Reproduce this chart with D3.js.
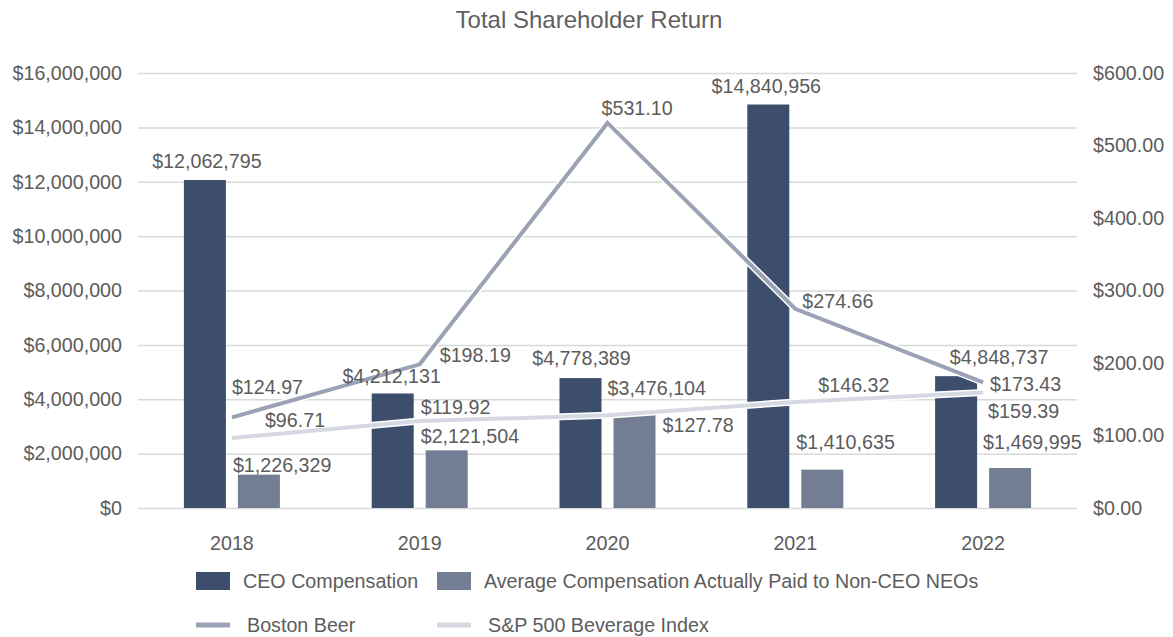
<!DOCTYPE html>
<html>
<head>
<meta charset="utf-8">
<script src="https://cdn.jsdelivr.net/npm/d3@7"></script>
<style>
  body { margin: 0; background: #fff; }
  text { font-family: "Liberation Sans", Arial, Helvetica, sans-serif; }
</style>
</head>
<body>
<div id="chart"></div>
<script>
// Chart data
const years = ["2018", "2019", "2020", "2021", "2022"];
const ceoComp = [12062795, 4212131, 4778389, 14840956, 4848737];
const neoComp = [1226329, 2121504, 3476104, 1410635, 1469995];
const bostonBeer = [124.97, 198.19, 531.10, 274.66, 173.43];
const spBeverage = [96.71, 119.92, 127.78, 146.32, 159.39];
const leftTicks = [0, 2000000, 4000000, 6000000, 8000000, 10000000, 12000000, 14000000, 16000000];
const rightTicks = [0, 100, 200, 300, 400, 500, 600];

// Label nudges [dx, dy] in px (placement only)
const ceoNudge = [[2, -12], [-1, -10], [1, -13], [-2, -12], [43, -12]];
const neoNudge = [[-5, -3], [-5, -7], [-6, -18], [-5, -21], [-6, -19]];
const bbNudge = [[0, -23], [20, -2], [-6, -8], [7, -1], [7, 9]];
const spNudge = [[33, -11], [1, -7], [55, 17], [23, -10], [5, 26]];

const W = 1173, H = 637;
const plot = {left: 138, right: 1077, top: 73, bottom: 508};
const fs = "19.7px";

const colors = {
  ceo: "#3c4e6c",
  neo: "#737e95",
  bb: "#9ca2b5",
  sp: "#d6d9e1",
  text: "#5c5c5c",
  grid: "#d9d9d9"
};

const svg = d3.select("#chart")
  .append("svg")
  .attr("width", W)
  .attr("height", H);

// Scales
const x0 = d3.scaleBand().domain(years).range([plot.left, plot.right]);
const x1 = d3.scaleBand().domain(["ceo", "neo"]).range([-48, 48]).paddingInner(0.2222);
const yL = d3.scaleLinear().domain([0, 16000000]).range([plot.bottom, plot.top]);
const yR = d3.scaleLinear().domain([0, 600]).range([plot.bottom, plot.top]);
const cx = y => x0(y) + x0.bandwidth() / 2;

// Title
svg.append("text")
  .attr("x", 589)
  .attr("y", 28)
  .attr("text-anchor", "middle")
  .style("font-size", "24px")
  .style("fill", "#606060")
  .text("Total Shareholder Return");

// Left axis with gridlines
const gL = svg.append("g")
  .attr("transform", `translate(${plot.left},0)`)
  .call(d3.axisLeft(yL)
    .tickValues(leftTicks)
    .tickSize(-(plot.right - plot.left))
    .tickPadding(16)
    .tickFormat(d => "$" + d3.format(",")(d)));
gL.select(".domain").remove();
gL.selectAll("line").attr("stroke", colors.grid).attr("stroke-width", 1.5);
gL.selectAll("text").style("font-size", fs).style("fill", colors.text).style("font-family", null);

// Right axis
const gR = svg.append("g")
  .attr("transform", `translate(${plot.right},0)`)
  .call(d3.axisRight(yR)
    .tickValues(rightTicks)
    .tickSize(0)
    .tickPadding(16)
    .tickFormat(d => "$" + d3.format(",.2f")(d)));
gR.select(".domain").remove();
gR.selectAll("text").style("font-size", fs).style("fill", colors.text).style("font-family", null);

// Bottom axis
const gX = svg.append("g")
  .attr("transform", `translate(0,${plot.bottom})`)
  .call(d3.axisBottom(x0).tickSize(0).tickPadding(28));
gX.select(".domain").remove();
gX.selectAll("text").style("font-size", fs).style("fill", colors.text).style("font-family", null);

// Bars
const barData = years.map((y, i) => ({year: y, ceo: ceoComp[i], neo: neoComp[i]}));

svg.append("g").selectAll("rect")
  .data(barData)
  .enter()
  .append("rect")
  .attr("x", d => cx(d.year) + x1("ceo"))
  .attr("y", d => yL(d.ceo))
  .attr("width", x1.bandwidth())
  .attr("height", d => yL(0) - yL(d.ceo))
  .attr("fill", colors.ceo);

svg.append("g").selectAll("rect")
  .data(barData)
  .enter()
  .append("rect")
  .attr("x", d => cx(d.year) + x1("neo"))
  .attr("y", d => yL(d.neo))
  .attr("width", x1.bandwidth())
  .attr("height", d => yL(0) - yL(d.neo))
  .attr("fill", colors.neo);

// Lines (with a thin white halo, as in the original)
const line = d3.line()
  .x(d => cx(d.year))
  .y(d => yR(d.v));

const bbData = years.map((y, i) => ({year: y, v: bostonBeer[i]}));
const spData = years.map((y, i) => ({year: y, v: spBeverage[i]}));

[[spData, colors.sp], [bbData, colors.bb]].forEach(([data, c]) => {
  svg.append("path")
    .datum(data)
    .attr("d", line)
    .attr("fill", "none")
    .attr("stroke", "#fff")
    .attr("stroke-width", 7);
  svg.append("path")
    .datum(data)
    .attr("d", line)
    .attr("fill", "none")
    .attr("stroke", c)
    .attr("stroke-width", 4);
});

// Value labels
const money = d3.format(",");
const money2 = d3.format(",.2f");
const labels = svg.append("g")
  .style("font-size", fs)
  .style("fill", colors.text);

barData.forEach((d, i) => {
  labels.append("text")
    .attr("x", cx(d.year) + x1("ceo") + x1.bandwidth() / 2 + ceoNudge[i][0])
    .attr("y", yL(d.ceo) + ceoNudge[i][1])
    .attr("text-anchor", "middle")
    .text("$" + money(d.ceo));
  labels.append("text")
    .attr("x", cx(d.year) + x1("neo") + neoNudge[i][0])
    .attr("y", yL(d.neo) + neoNudge[i][1])
    .text("$" + money(d.neo));
});

bbData.forEach((d, i) => {
  labels.append("text")
    .attr("x", cx(d.year) + bbNudge[i][0])
    .attr("y", yR(d.v) + bbNudge[i][1])
    .text("$" + money2(d.v));
});

spData.forEach((d, i) => {
  labels.append("text")
    .attr("x", cx(d.year) + spNudge[i][0])
    .attr("y", yR(d.v) + spNudge[i][1])
    .text("$" + money2(d.v));
});

// Legend
const legend = svg.append("g").style("font-size", fs).style("fill", colors.text);
const legendItems = [
  {label: "CEO Compensation", type: "rect", color: colors.ceo, x: 196, y: 581},
  {label: "Average Compensation Actually Paid to Non-CEO NEOs", type: "rect", color: colors.neo, x: 437, y: 581},
  {label: "Boston Beer", type: "line", color: colors.bb, x: 196, y: 625},
  {label: "S&P 500 Beverage Index", type: "line", color: colors.sp, x: 437, y: 625}
];

legendItems.forEach(d => {
  if (d.type === "rect") {
    legend.append("rect")
      .attr("x", d.x).attr("y", d.y - 9)
      .attr("width", 34).attr("height", 18)
      .attr("fill", d.color);
  } else {
    legend.append("line")
      .attr("x1", d.x).attr("x2", d.x + 34)
      .attr("y1", d.y).attr("y2", d.y)
      .attr("stroke", d.color)
      .attr("stroke-width", 5);
  }
  legend.append("text")
    .attr("x", d.x + (d.type === "rect" ? 47 : 51))
    .attr("y", d.y)
    .attr("dy", "0.35em")
    .text(d.label);
});
</script>
</body>
</html>
